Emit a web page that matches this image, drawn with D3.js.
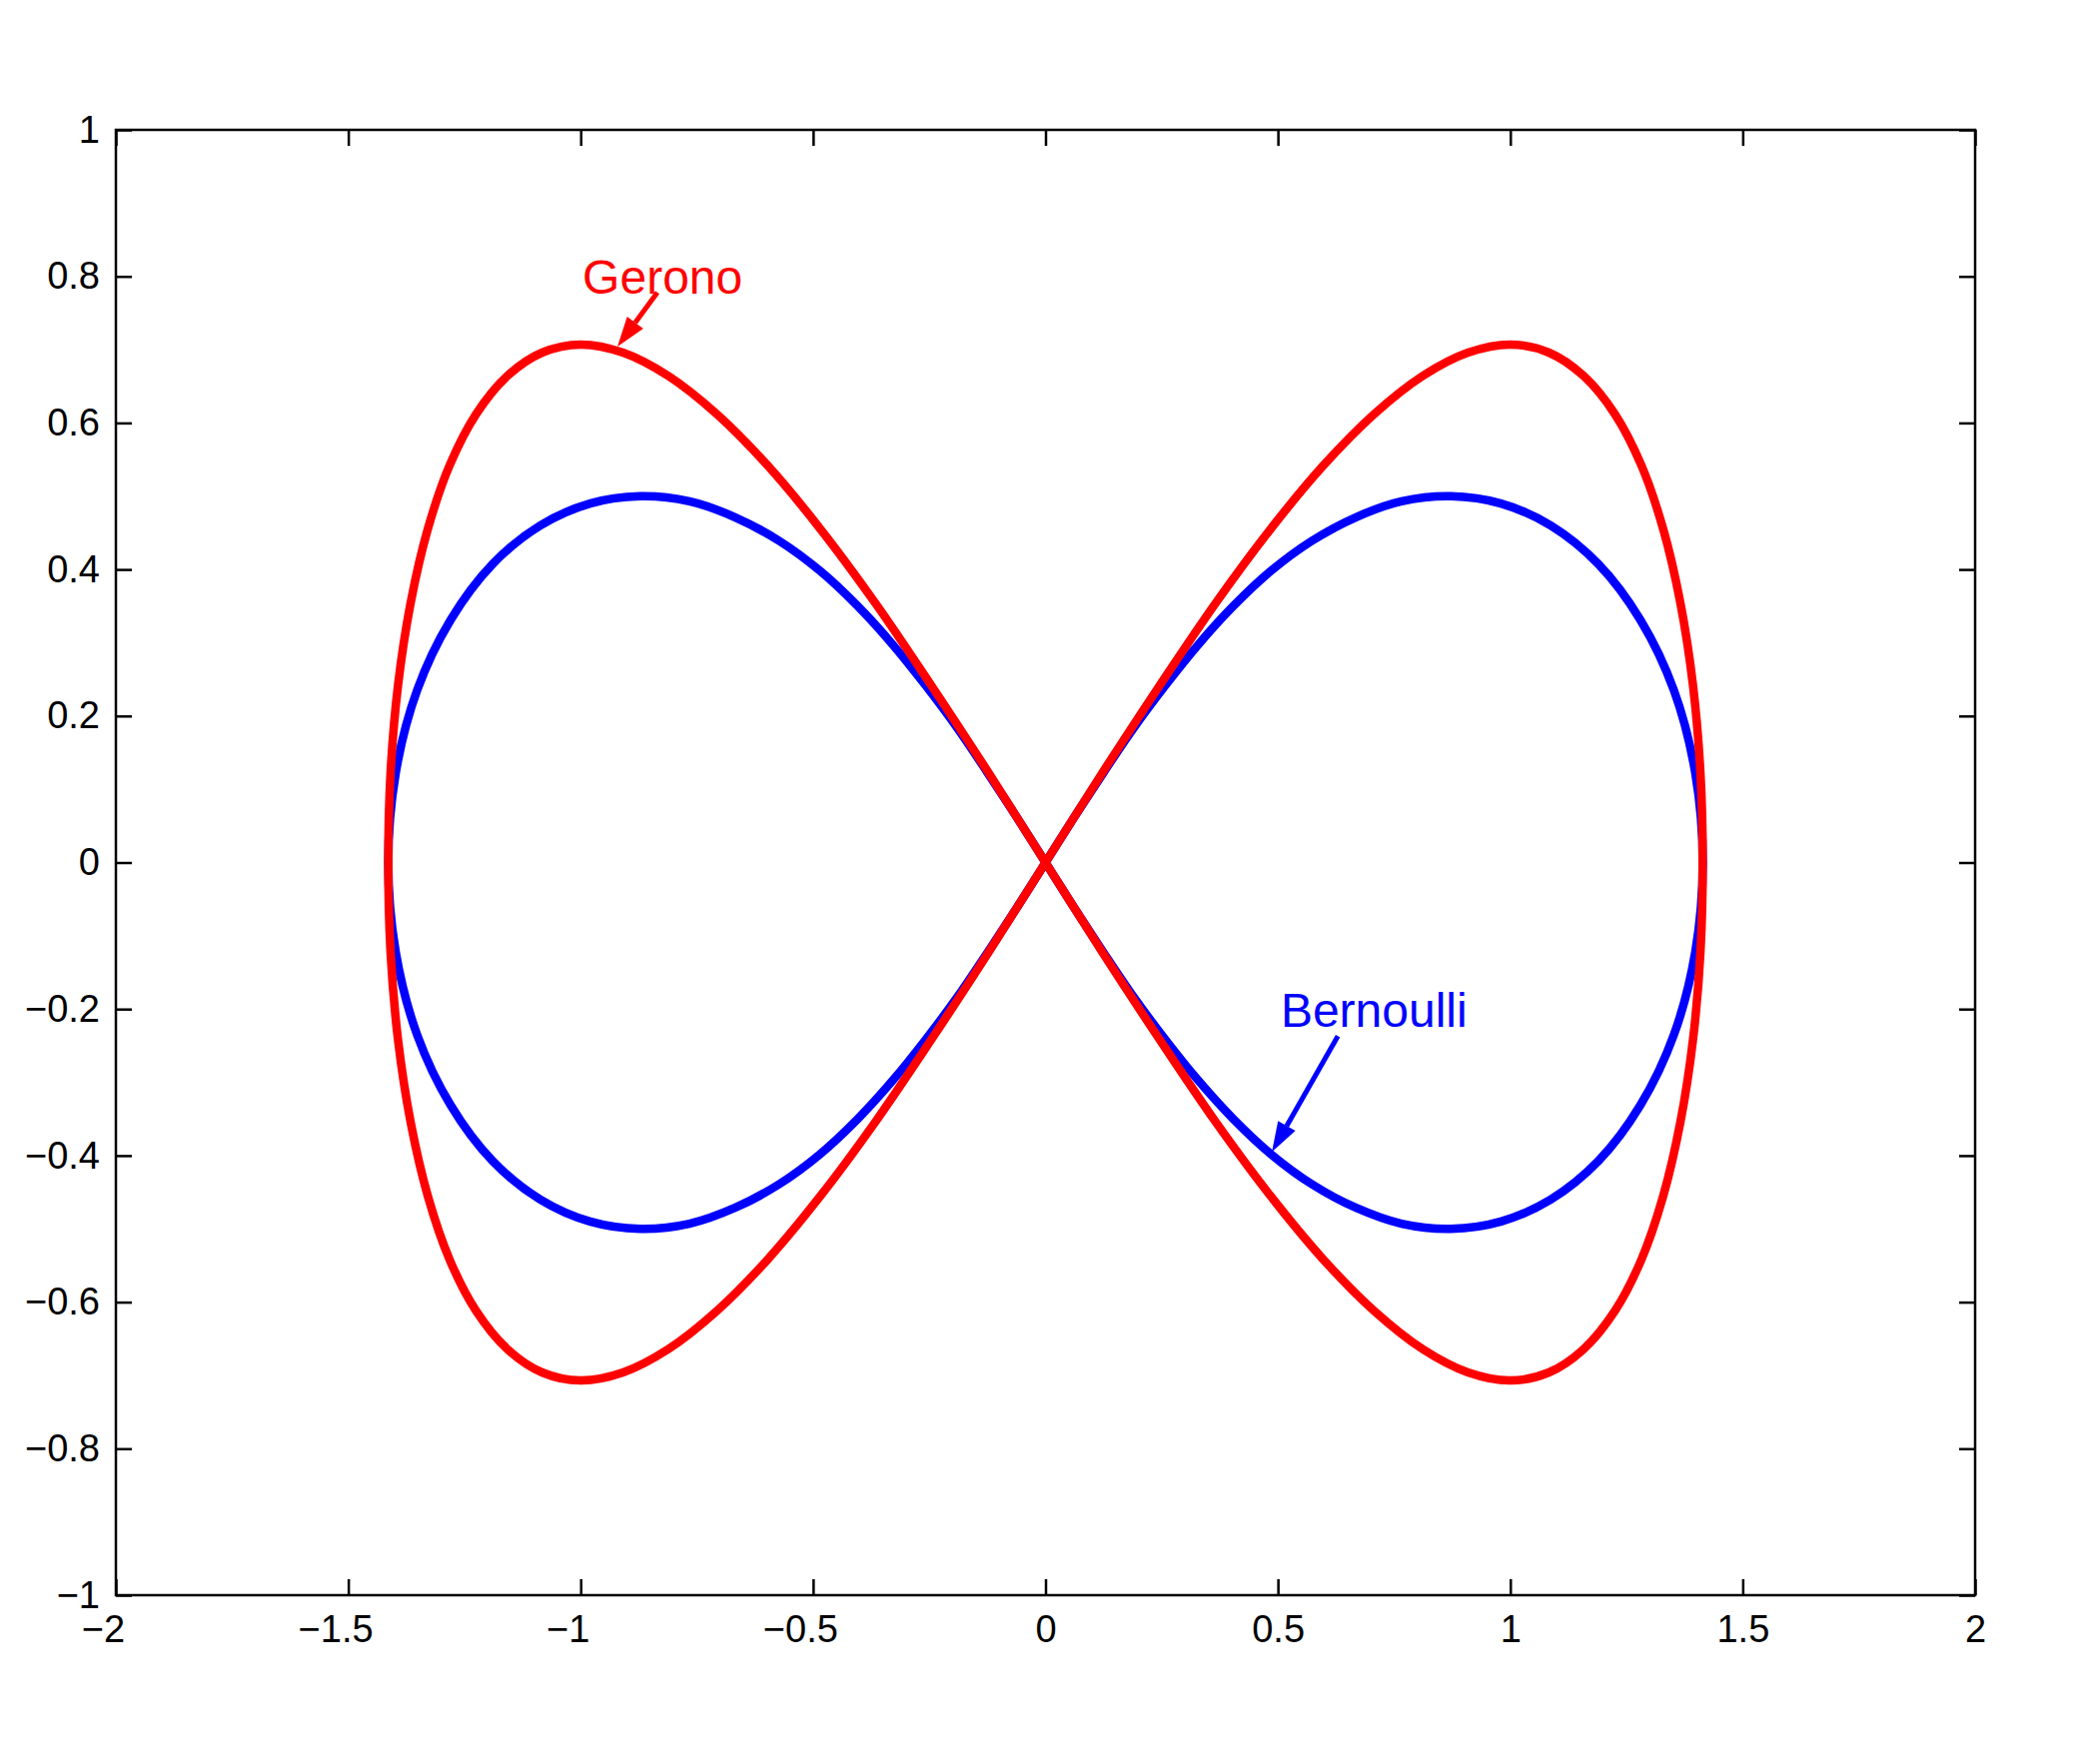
<!DOCTYPE html>
<html>
<head>
<meta charset="utf-8">
<script src="https://cdn.jsdelivr.net/npm/d3@7"></script>
<style>
  html, body { margin: 0; padding: 0; background: #fff; }
  svg { display: block; font-family: "Liberation Sans", Arial, sans-serif; }
</style>
</head>
<body>
<div id="chart"></div>
<script>
"use strict";
// points, going round each loop once
const geronoX = [1.414, 1.409, 1.393, 1.366, 1.329, 1.282, 1.225, 1.158, 1.083, 1.000, 0.909, 0.811, 0.707, 0.598, 0.484, 0.366, 0.246, 0.123,
  0, -0.123, -0.246, -0.366, -0.484, -0.598, -0.707, -0.811, -0.909, -1.000, -1.083, -1.158, -1.225, -1.282, -1.329, -1.366, -1.393, -1.409,
  -1.414, -1.409, -1.393, -1.366, -1.329, -1.282, -1.225, -1.158, -1.083, -1.000, -0.909, -0.811, -0.707, -0.598, -0.484, -0.366, -0.246, -0.123,
  0, 0.123, 0.246, 0.366, 0.484, 0.598, 0.707, 0.811, 0.909, 1.000, 1.083, 1.158, 1.225, 1.282, 1.329, 1.366, 1.393, 1.409];
const geronoY = [0, 0.123, 0.242, 0.354, 0.455, 0.542, 0.612, 0.664, 0.696, 0.707, 0.696, 0.664, 0.612, 0.542, 0.455, 0.354, 0.242, 0.123,
  0, -0.123, -0.242, -0.354, -0.455, -0.542, -0.612, -0.664, -0.696, -0.707, -0.696, -0.664, -0.612, -0.542, -0.455, -0.354, -0.242, -0.123,
  0, 0.123, 0.242, 0.354, 0.455, 0.542, 0.612, 0.664, 0.696, 0.707, 0.696, 0.664, 0.612, 0.542, 0.455, 0.354, 0.242, 0.123,
  0, -0.123, -0.242, -0.354, -0.455, -0.542, -0.612, -0.664, -0.696, -0.707, -0.696, -0.664, -0.612, -0.542, -0.455, -0.354, -0.242, -0.123];
const bernoulliX = [1.414, 1.398, 1.352, 1.280, 1.190, 1.087, 0.980, 0.872, 0.766, 0.667, 0.573, 0.485, 0.404, 0.328, 0.257, 0.189, 0.125, 0.062,
  0, -0.062, -0.125, -0.189, -0.257, -0.328, -0.404, -0.485, -0.573, -0.667, -0.766, -0.872, -0.980, -1.087, -1.190, -1.280, -1.352, -1.398,
  -1.414, -1.398, -1.352, -1.280, -1.190, -1.087, -0.980, -0.872, -0.766, -0.667, -0.573, -0.485, -0.404, -0.328, -0.257, -0.189, -0.125, -0.062,
  0, 0.062, 0.125, 0.189, 0.257, 0.328, 0.404, 0.485, 0.573, 0.667, 0.766, 0.872, 0.980, 1.087, 1.190, 1.280, 1.352, 1.398];
const bernoulliY = [0, 0.122, 0.235, 0.331, 0.407, 0.460, 0.490, 0.500, 0.493, 0.471, 0.439, 0.398, 0.350, 0.297, 0.241, 0.183, 0.123, 0.062,
  0, -0.062, -0.123, -0.183, -0.241, -0.297, -0.350, -0.398, -0.439, -0.471, -0.493, -0.500, -0.490, -0.460, -0.407, -0.331, -0.235, -0.122,
  0, 0.122, 0.235, 0.331, 0.407, 0.460, 0.490, 0.500, 0.493, 0.471, 0.439, 0.398, 0.350, 0.297, 0.241, 0.183, 0.123, 0.062,
  0, -0.062, -0.123, -0.183, -0.241, -0.297, -0.350, -0.398, -0.439, -0.471, -0.493, -0.500, -0.490, -0.460, -0.407, -0.331, -0.235, -0.122];

const xTicks = [-2, -1.5, -1, -0.5, 0, 0.5, 1, 1.5, 2];
const yTicks = [-1, -0.8, -0.6, -0.4, -0.2, 0, 0.2, 0.4, 0.6, 0.8, 1];

// text labels with the arrow pointing at each curve
const labelNames = ["Gerono", "Bernoulli"];
const labelPos = [[-0.996, 0.776], [0.506, -0.224]];
const arrowTail = [[-0.835, 0.778], [0.629, -0.237]];
const arrowTip = [[-0.921, 0.704], [0.487, -0.395]];

const svgWidth = 2102;
const svgHeight = 1763;
const plotLeft = 116, plotRight = 1977, plotTop = 130, plotBottom = 1597;
const fmt = v => String(v).replace("-", "\u2212");

const svg = d3.select("#chart").append("svg")
  .attr("width", svgWidth)
  .attr("height", svgHeight);

const xScale = d3.scaleLinear().domain([-2, 2]).range([plotLeft, plotRight]);
const yScale = d3.scaleLinear().domain([-1, 1]).range([plotBottom, plotTop]);

const tickLen = 16;
const axisStyle = g => {
  g.select(".domain").remove();
  g.selectAll("line").attr("stroke", "#000").attr("stroke-width", 2.5);
  g.selectAll("text").attr("fill", "#000").style("font-size", "38px")
    .style("font-family", "'Liberation Sans', Arial, sans-serif");
};

svg.append("g")
  .attr("transform", `translate(0, ${plotBottom})`)
  .call(d3.axisBottom(xScale).tickValues(xTicks).tickFormat(fmt).tickSizeInner(-tickLen).tickPadding(20))
  .call(axisStyle)
  .selectAll("text")
  .attr("dx", d => d < 0 ? -13 : 0);
svg.append("g")
  .attr("transform", `translate(0, ${plotTop})`)
  .call(d3.axisTop(xScale).tickValues(xTicks).tickFormat("").tickSizeInner(-tickLen))
  .call(axisStyle);
svg.append("g")
  .attr("transform", `translate(${plotLeft}, 0)`)
  .call(d3.axisLeft(yScale).tickValues(yTicks).tickFormat(fmt).tickSizeInner(-tickLen).tickPadding(16))
  .call(axisStyle);
svg.append("g")
  .attr("transform", `translate(${plotRight}, 0)`)
  .call(d3.axisRight(yScale).tickValues(yTicks).tickFormat("").tickSizeInner(-tickLen))
  .call(axisStyle);

svg.append("rect")
  .attr("x", plotLeft).attr("y", plotTop)
  .attr("width", plotRight - plotLeft).attr("height", plotBottom - plotTop)
  .attr("fill", "none").attr("stroke", "#000").attr("stroke-width", 2.5);

const line = d3.line()
  .x(d => xScale(d[0]))
  .y(d => yScale(d[1]))
  .curve(d3.curveCatmullRomClosed.alpha(0.5));

const series = [
  { xs: bernoulliX, ys: bernoulliY, color: "#0000ff" },
  { xs: geronoX, ys: geronoY, color: "#ff0000" }
];
series.forEach(s => {
  svg.append("path")
    .datum(s.xs.map((x, i) => [x, s.ys[i]]))
    .attr("d", line)
    .attr("fill", "none")
    .attr("stroke", s.color)
    .attr("stroke-width", 8.5)
    .attr("stroke-linejoin", "round");
});

const labelColors = ["#ff0000", "#0000ff"];
labelNames.forEach((name, i) => {
  const color = labelColors[i];
  svg.append("text")
    .attr("x", xScale(labelPos[i][0]))
    .attr("y", yScale(labelPos[i][1]))
    .attr("fill", color)
    .style("font-size", "48px")
    .text(name);
  const x0 = xScale(arrowTail[i][0]), y0 = yScale(arrowTail[i][1]);
  const x1 = xScale(arrowTip[i][0]), y1 = yScale(arrowTip[i][1]);
  const ang = Math.atan2(y1 - y0, x1 - x0);
  const headLen = 30, headHalf = 10;
  const bx = x1 - headLen * Math.cos(ang), by = y1 - headLen * Math.sin(ang);
  svg.append("line")
    .attr("x1", x0).attr("y1", y0).attr("x2", bx).attr("y2", by)
    .attr("stroke", color).attr("stroke-width", 5);
  svg.append("polygon")
    .attr("points", [
      [x1, y1],
      [bx + headHalf * Math.sin(ang), by - headHalf * Math.cos(ang)],
      [bx - headHalf * Math.sin(ang), by + headHalf * Math.cos(ang)]
    ].map(p => p.join(",")).join(" "))
    .attr("fill", color);
});
</script>
</body>
</html>
